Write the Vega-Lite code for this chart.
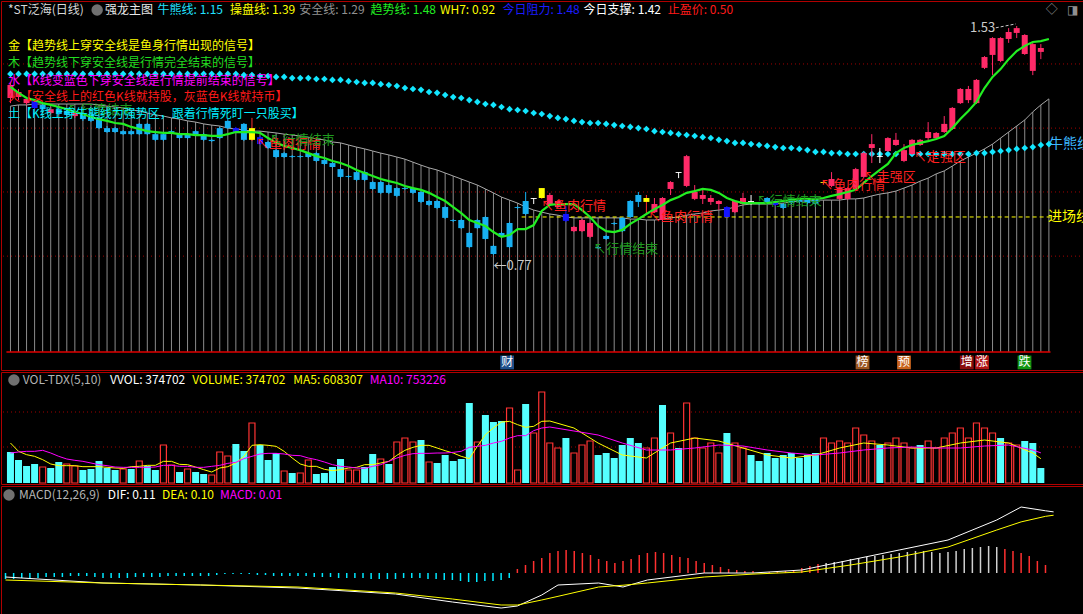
{
"$schema":"https://vega.github.io/schema/vega-lite/v6.json",
"background":"#000000",
"padding":0,
"spacing":0,
"config":{"font":"Noto Sans CJK SC","view":{"stroke":"#b00000","strokeWidth":1}},
"datasets":{
"cd":[
{"k":0,"t":1.334,"b":1.291,"h":1.341,"l":1.274,"c":"red"},
{"k":1,"t":1.311,"b":1.294,"h":1.321,"l":1.284,"c":"red"},
{"k":2,"t":1.288,"b":1.274,"h":1.294,"l":1.268,"c":"red"},
{"k":3,"t":1.281,"b":1.258,"h":1.284,"l":1.254,"c":"blue"},
{"k":4,"t":1.268,"b":1.254,"h":1.274,"l":1.248,"c":"cyan"},
{"k":5,"t":1.254,"b":1.241,"h":1.261,"l":1.238,"c":"red"},
{"k":6,"t":1.254,"b":1.238,"h":1.258,"l":1.235,"c":"cyan"},
{"k":7,"t":1.248,"b":1.235,"h":1.254,"l":1.231,"c":"cyan"},
{"k":8,"t":1.245,"b":1.231,"h":1.248,"l":1.225,"c":"red"},
{"k":9,"t":1.241,"b":1.221,"h":1.245,"l":1.215,"c":"cyan"},
{"k":10,"t":1.238,"b":1.215,"h":1.241,"l":1.211,"c":"cyan"},
{"k":11,"t":1.225,"b":1.191,"h":1.231,"l":1.188,"c":"cyan"},
{"k":12,"t":1.191,"b":1.178,"h":1.198,"l":1.175,"c":"cyan"},
{"k":13,"t":1.191,"b":1.178,"h":1.195,"l":1.175,"c":"cyan"},
{"k":14,"t":1.181,"b":1.171,"h":1.185,"l":1.168,"c":"cyan"},
{"k":15,"t":1.181,"b":1.171,"h":1.185,"l":1.168,"c":"cyan"},
{"k":16,"t":1.205,"b":1.171,"h":1.208,"l":1.168,"c":"cyan"},
{"k":17,"t":1.205,"b":1.171,"h":1.208,"l":1.168,"c":"cyan"},
{"k":18,"t":1.171,"b":1.152,"h":1.175,"l":1.148,"c":"cyan"},
{"k":19,"t":1.171,"b":1.152,"h":1.175,"l":1.148,"c":"cyan"},
{"k":20,"t":1.181,"b":1.178,"h":1.185,"l":1.171,"c":"cyan"},
{"k":21,"t":1.171,"b":1.158,"h":1.175,"l":1.155,"c":"cyan"},
{"k":22,"t":1.171,"b":1.158,"h":1.175,"l":1.155,"c":"cyan"},
{"k":23,"t":1.181,"b":1.168,"h":1.185,"l":1.165,"c":"cyan"},
{"k":24,"t":1.171,"b":1.152,"h":1.175,"l":1.148,"c":"cyan"},
{"k":25,"t":1.152,"b":1.148,"h":1.155,"l":1.145,"c":"cyan"},
{"k":26,"t":1.191,"b":1.158,"h":1.195,"l":1.155,"c":"cyan"},
{"k":27,"t":1.215,"b":1.191,"h":1.221,"l":1.188,"c":"cyan"},
{"k":28,"t":1.191,"b":1.178,"h":1.195,"l":1.175,"c":"blue"},
{"k":29,"t":1.205,"b":1.152,"h":1.208,"l":1.148,"c":"cyan"},
{"k":30,"t":1.191,"b":1.152,"h":1.225,"l":1.148,"c":"yellow"},
{"k":31,"t":1.161,"b":1.138,"h":1.165,"l":1.135,"c":"blue"},
{"k":32,"t":1.145,"b":1.125,"h":1.148,"l":1.122,"c":"cyan"},
{"k":33,"t":1.118,"b":1.095,"h":1.122,"l":1.092,"c":"cyan"},
{"k":34,"t":1.108,"b":1.095,"h":1.112,"l":1.092,"c":"cyan"},
{"k":35,"t":1.098,"b":1.095,"h":1.102,"l":1.092,"c":"cyan"},
{"k":36,"t":1.098,"b":1.095,"h":1.102,"l":1.092,"c":"cyan"},
{"k":37,"t":1.108,"b":1.095,"h":1.112,"l":1.092,"c":"cyan"},
{"k":38,"t":1.108,"b":1.082,"h":1.112,"l":1.078,"c":"cyan"},
{"k":39,"t":1.085,"b":1.072,"h":1.088,"l":1.068,"c":"cyan"},
{"k":40,"t":1.075,"b":1.062,"h":1.078,"l":1.059,"c":"cyan"},
{"k":41,"t":1.055,"b":1.029,"h":1.059,"l":1.025,"c":"cyan"},
{"k":42,"t":1.032,"b":1.029,"h":1.035,"l":1.025,"c":"cyan"},
{"k":43,"t":1.045,"b":1.019,"h":1.049,"l":1.015,"c":"cyan"},
{"k":44,"t":1.045,"b":1.019,"h":1.049,"l":1.015,"c":"cyan"},
{"k":45,"t":1.012,"b":0.989,"h":1.015,"l":0.986,"c":"cyan"},
{"k":46,"t":1.012,"b":0.976,"h":1.015,"l":0.972,"c":"cyan"},
{"k":47,"t":1.002,"b":0.976,"h":1.005,"l":0.972,"c":"cyan"},
{"k":48,"t":0.992,"b":0.966,"h":0.995,"l":0.962,"c":"cyan"},
{"k":49,"t":0.992,"b":0.989,"h":0.995,"l":0.986,"c":"cyan"},
{"k":50,"t":0.992,"b":0.976,"h":0.995,"l":0.972,"c":"cyan"},
{"k":51,"t":0.979,"b":0.946,"h":0.982,"l":0.942,"c":"cyan"},
{"k":52,"t":0.949,"b":0.936,"h":0.952,"l":0.932,"c":"cyan"},
{"k":53,"t":0.949,"b":0.926,"h":0.952,"l":0.922,"c":"cyan"},
{"k":54,"t":0.929,"b":0.893,"h":0.932,"l":0.889,"c":"cyan"},
{"k":55,"t":0.886,"b":0.883,"h":0.889,"l":0.879,"c":"cyan"},
{"k":56,"t":0.886,"b":0.859,"h":0.889,"l":0.856,"c":"cyan"},
{"k":57,"t":0.843,"b":0.796,"h":0.846,"l":0.793,"c":"cyan"},
{"k":58,"t":0.886,"b":0.859,"h":0.889,"l":0.856,"c":"cyan"},
{"k":59,"t":0.896,"b":0.823,"h":0.899,"l":0.820,"c":"cyan"},
{"k":60,"t":0.800,"b":0.773,"h":0.803,"l":0.770,"c":"cyan"},
{"k":61,"t":0.843,"b":0.830,"h":0.846,"l":0.826,"c":"cyan"},
{"k":62,"t":0.876,"b":0.796,"h":0.879,"l":0.793,"c":"cyan"},
{"k":63,"t":0.929,"b":0.926,"h":0.932,"l":0.922,"c":"cyan"},
{"k":64,"t":0.949,"b":0.906,"h":0.979,"l":0.902,"c":"cyan"},
{"k":65,"t":0.959,"b":0.956,"h":0.959,"l":0.939,"c":"white"},
{"k":66,"t":0.992,"b":0.959,"h":0.992,"l":0.956,"c":"yellow"},
{"k":67,"t":0.969,"b":0.936,"h":0.976,"l":0.932,"c":"red"},
{"k":68,"t":0.949,"b":0.929,"h":0.952,"l":0.926,"c":"red"},
{"k":69,"t":0.906,"b":0.883,"h":0.932,"l":0.879,"c":"blue"},
{"k":70,"t":0.863,"b":0.849,"h":0.866,"l":0.846,"c":"red"},
{"k":71,"t":0.886,"b":0.849,"h":0.889,"l":0.846,"c":"red"},
{"k":72,"t":0.876,"b":0.830,"h":0.879,"l":0.826,"c":"red"},
{"k":73,"t":0.796,"b":0.793,"h":0.800,"l":0.790,"c":"cyan"},
{"k":74,"t":0.833,"b":0.823,"h":0.836,"l":0.820,"c":"cyan"},
{"k":75,"t":0.876,"b":0.873,"h":0.879,"l":0.869,"c":"cyan"},
{"k":76,"t":0.893,"b":0.849,"h":0.896,"l":0.846,"c":"cyan"},
{"k":77,"t":0.949,"b":0.896,"h":0.952,"l":0.893,"c":"cyan"},
{"k":78,"t":0.969,"b":0.946,"h":0.979,"l":0.929,"c":"cyan"},
{"k":79,"t":0.959,"b":0.946,"h":0.969,"l":0.909,"c":"yellow"},
{"k":80,"t":0.939,"b":0.912,"h":0.959,"l":0.909,"c":"red"},
{"k":81,"t":0.959,"b":0.886,"h":0.962,"l":0.883,"c":"red"},
{"k":82,"t":1.012,"b":0.989,"h":1.015,"l":0.969,"c":"red"},
{"k":83,"t":1.045,"b":1.042,"h":1.045,"l":1.025,"c":"white"},
{"k":84,"t":1.098,"b":0.999,"h":1.102,"l":0.995,"c":"red"},
{"k":85,"t":0.979,"b":0.956,"h":1.002,"l":0.952,"c":"red"},
{"k":86,"t":0.969,"b":0.956,"h":0.986,"l":0.939,"c":"red"},
{"k":87,"t":0.959,"b":0.946,"h":0.969,"l":0.936,"c":"red"},
{"k":88,"t":0.949,"b":0.939,"h":0.952,"l":0.919,"c":"red"},
{"k":89,"t":0.929,"b":0.896,"h":0.932,"l":0.893,"c":"blue"},
{"k":90,"t":0.949,"b":0.912,"h":0.952,"l":0.909,"c":"red"},
{"k":91,"t":0.959,"b":0.939,"h":0.976,"l":0.936,"c":"red"},
{"k":92,"t":0.949,"b":0.946,"h":0.969,"l":0.936,"c":"white"},
{"k":93,"t":0.942,"b":0.939,"h":0.946,"l":0.936,"c":"cyan"},
{"k":94,"t":0.959,"b":0.942,"h":0.962,"l":0.939,"c":"cyan"},
{"k":95,"t":0.949,"b":0.936,"h":0.952,"l":0.932,"c":"blue"},
{"k":96,"t":0.939,"b":0.926,"h":0.942,"l":0.922,"c":"cyan"},
{"k":97,"t":0.956,"b":0.942,"h":0.959,"l":0.939,"c":"cyan"},
{"k":98,"t":0.956,"b":0.946,"h":0.959,"l":0.942,"c":"cyan"},
{"k":99,"t":0.956,"b":0.942,"h":0.959,"l":0.939,"c":"cyan"},
{"k":100,"t":0.959,"b":0.939,"h":0.962,"l":0.936,"c":"cyan"},
{"k":101,"t":1.012,"b":1.009,"h":1.015,"l":1.005,"c":"yellow"},
{"k":102,"t":1.022,"b":0.999,"h":1.045,"l":0.995,"c":"red"},
{"k":103,"t":0.992,"b":0.956,"h":0.995,"l":0.952,"c":"red"},
{"k":104,"t":0.992,"b":0.956,"h":0.995,"l":0.952,"c":"red"},
{"k":105,"t":1.055,"b":0.989,"h":1.059,"l":0.986,"c":"red"},
{"k":106,"t":1.108,"b":1.029,"h":1.112,"l":1.025,"c":"red"},
{"k":107,"t":1.138,"b":1.125,"h":1.171,"l":1.075,"c":"red"},
{"k":108,"t":1.098,"b":1.095,"h":1.125,"l":1.075,"c":"white"},
{"k":109,"t":1.158,"b":1.115,"h":1.161,"l":1.112,"c":"red"},
{"k":110,"t":1.152,"b":1.135,"h":1.175,"l":1.132,"c":"red"},
{"k":111,"t":1.118,"b":1.082,"h":1.138,"l":1.078,"c":"red"},
{"k":112,"t":1.152,"b":1.105,"h":1.155,"l":1.102,"c":"red"},
{"k":113,"t":1.152,"b":1.135,"h":1.155,"l":1.132,"c":"red"},
{"k":114,"t":1.178,"b":1.158,"h":1.211,"l":1.148,"c":"red"},
{"k":115,"t":1.175,"b":1.158,"h":1.178,"l":1.155,"c":"red"},
{"k":116,"t":1.205,"b":1.178,"h":1.231,"l":1.175,"c":"red"},
{"k":117,"t":1.258,"b":1.188,"h":1.261,"l":1.185,"c":"red"},
{"k":118,"t":1.321,"b":1.274,"h":1.324,"l":1.271,"c":"red"},
{"k":119,"t":1.321,"b":1.284,"h":1.331,"l":1.274,"c":"red"},
{"k":120,"t":1.351,"b":1.274,"h":1.354,"l":1.271,"c":"red"},
{"k":121,"t":1.427,"b":1.391,"h":1.430,"l":1.387,"c":"red"},
{"k":122,"t":1.490,"b":1.434,"h":1.493,"l":1.367,"c":"red"},
{"k":123,"t":1.490,"b":1.414,"h":1.493,"l":1.410,"c":"red"},
{"k":124,"t":1.510,"b":1.487,"h":1.523,"l":1.474,"c":"red"},
{"k":125,"t":1.523,"b":1.507,"h":1.530,"l":1.490,"c":"red"},
{"k":126,"t":1.500,"b":1.437,"h":1.503,"l":1.434,"c":"red"},
{"k":127,"t":1.470,"b":1.381,"h":1.474,"l":1.367,"c":"red"},
{"k":128,"t":1.457,"b":1.444,"h":1.470,"l":1.420,"c":"red"}
],
"ln":[
{"k":0,"g":1.264,"tr":1.328,"bx":1.371},{"k":1,"g":1.268,"tr":1.308,"bx":1.371},{"k":2,"g":1.268,"tr":1.291,"bx":1.371},{"k":3,"g":1.271,"tr":1.284,"bx":1.371},{"k":4,"g":1.271,"tr":1.274,"bx":1.371},{"k":5,"g":1.271,"tr":1.268,"bx":1.371},{"k":6,"g":1.271,"tr":1.261,"bx":1.371},{"k":7,"g":1.271,"tr":1.254,"bx":1.371},{"k":8,"g":1.271,"tr":1.245,"bx":1.371},{"k":9,"g":1.271,"tr":1.238,"bx":1.371},
{"k":10,"g":1.271,"tr":1.228,"bx":1.371},{"k":11,"g":1.268,"tr":1.221,"bx":1.371},{"k":12,"g":1.264,"tr":1.215,"bx":1.371},{"k":13,"g":1.261,"tr":1.208,"bx":1.371},{"k":14,"g":1.258,"tr":1.205,"bx":1.371},{"k":15,"g":1.251,"tr":1.195,"bx":1.371},{"k":16,"g":1.248,"tr":1.188,"bx":1.371},{"k":17,"g":1.241,"tr":1.181,"bx":1.371},{"k":18,"g":1.235,"tr":1.178,"bx":1.371},{"k":19,"g":1.231,"tr":1.175,"bx":1.371},
{"k":20,"g":1.225,"tr":1.175,"bx":1.371},{"k":21,"g":1.221,"tr":1.171,"bx":1.371},{"k":22,"g":1.215,"tr":1.171,"bx":1.371},{"k":23,"g":1.211,"tr":1.168,"bx":1.371},{"k":24,"g":1.205,"tr":1.168,"bx":1.371},{"k":25,"g":1.201,"tr":1.165,"bx":1.371},{"k":26,"g":1.198,"tr":1.165,"bx":1.371},{"k":27,"g":1.191,"tr":1.171,"bx":1.371},{"k":28,"g":1.188,"tr":1.178,"bx":1.371},{"k":29,"g":1.185,"tr":1.178,"bx":1.367},
{"k":30,"g":1.181,"tr":1.178,"bx":1.367},{"k":31,"g":1.181,"tr":1.175,"bx":1.364},{"k":32,"g":1.178,"tr":1.158,"bx":1.364},{"k":33,"g":1.175,"tr":1.142,"bx":1.361},{"k":34,"g":1.171,"tr":1.132,"bx":1.361},{"k":35,"g":1.168,"tr":1.125,"bx":1.357},{"k":36,"g":1.165,"tr":1.118,"bx":1.357},{"k":37,"g":1.161,"tr":1.108,"bx":1.357},{"k":38,"g":1.155,"tr":1.098,"bx":1.354},{"k":39,"g":1.152,"tr":1.092,"bx":1.354},
{"k":40,"g":1.145,"tr":1.082,"bx":1.351},{"k":41,"g":1.142,"tr":1.075,"bx":1.351},{"k":42,"g":1.135,"tr":1.065,"bx":1.347},{"k":43,"g":1.128,"tr":1.052,"bx":1.344},{"k":44,"g":1.122,"tr":1.042,"bx":1.341},{"k":45,"g":1.115,"tr":1.032,"bx":1.341},{"k":46,"g":1.108,"tr":1.022,"bx":1.337},{"k":47,"g":1.102,"tr":1.015,"bx":1.334},{"k":48,"g":1.095,"tr":1.009,"bx":1.331},{"k":49,"g":1.088,"tr":0.999,"bx":1.324},
{"k":50,"g":1.078,"tr":0.992,"bx":1.321},{"k":51,"g":1.068,"tr":0.986,"bx":1.318},{"k":52,"g":1.059,"tr":0.976,"bx":1.311},{"k":53,"g":1.052,"tr":0.962,"bx":1.308},{"k":54,"g":1.042,"tr":0.949,"bx":1.301},{"k":55,"g":1.032,"tr":0.929,"bx":1.294},{"k":56,"g":1.022,"tr":0.909,"bx":1.291},{"k":57,"g":1.012,"tr":0.886,"bx":1.284},{"k":58,"g":1.002,"tr":0.876,"bx":1.278},{"k":59,"g":0.989,"tr":0.866,"bx":1.271},
{"k":60,"g":0.976,"tr":0.846,"bx":1.268},{"k":61,"g":0.962,"tr":0.830,"bx":1.261},{"k":62,"g":0.952,"tr":0.836,"bx":1.254},{"k":63,"g":0.942,"tr":0.856,"bx":1.251},{"k":64,"g":0.929,"tr":0.856,"bx":1.248},{"k":65,"g":0.919,"tr":0.869,"bx":1.241},{"k":66,"g":0.912,"tr":0.916,"bx":1.238},{"k":67,"g":0.906,"tr":0.936,"bx":1.231},{"k":68,"g":0.902,"tr":0.939,"bx":1.225},{"k":69,"g":0.896,"tr":0.939,"bx":1.221},
{"k":70,"g":0.893,"tr":0.939,"bx":1.215},{"k":71,"g":0.893,"tr":0.919,"bx":1.211},{"k":72,"g":0.893,"tr":0.896,"bx":1.208},{"k":73,"g":0.893,"tr":0.866,"bx":1.208},{"k":74,"g":0.893,"tr":0.849,"bx":1.205},{"k":75,"g":0.893,"tr":0.846,"bx":1.201},{"k":76,"g":0.893,"tr":0.853,"bx":1.198},{"k":77,"g":0.889,"tr":0.873,"bx":1.195},{"k":78,"g":0.889,"tr":0.889,"bx":1.191},{"k":79,"g":0.886,"tr":0.906,"bx":1.188},
{"k":80,"g":0.886,"tr":0.922,"bx":1.181},{"k":81,"g":0.889,"tr":0.936,"bx":1.178},{"k":82,"g":0.893,"tr":0.952,"bx":1.175},{"k":83,"g":0.896,"tr":0.962,"bx":1.171},{"k":84,"g":0.902,"tr":0.976,"bx":1.168},{"k":85,"g":0.906,"tr":0.982,"bx":1.165},{"k":86,"g":0.909,"tr":0.989,"bx":1.161},{"k":87,"g":0.916,"tr":0.986,"bx":1.158},{"k":88,"g":0.919,"tr":0.976,"bx":1.152},{"k":89,"g":0.922,"tr":0.959,"bx":1.148},
{"k":90,"g":0.929,"tr":0.949,"bx":1.142},{"k":91,"g":0.936,"tr":0.942,"bx":1.142},{"k":92,"g":0.939,"tr":0.942,"bx":1.138},{"k":93,"g":0.939,"tr":0.942,"bx":1.135},{"k":94,"g":0.939,"tr":0.942,"bx":1.132},{"k":95,"g":0.939,"tr":0.946,"bx":1.128},{"k":96,"g":0.942,"tr":0.949,"bx":1.125},{"k":97,"g":0.946,"tr":0.952,"bx":1.125},{"k":98,"g":0.949,"tr":0.956,"bx":1.122},{"k":99,"g":0.949,"tr":0.956,"bx":1.118},
{"k":100,"g":0.952,"tr":0.956,"bx":1.112},{"k":101,"g":0.952,"tr":0.959,"bx":1.112},{"k":102,"g":0.952,"tr":0.966,"bx":1.108},{"k":103,"g":0.952,"tr":0.972,"bx":1.108},{"k":104,"g":0.956,"tr":0.979,"bx":1.105},{"k":105,"g":0.956,"tr":0.986,"bx":1.105},{"k":106,"g":0.959,"tr":1.009,"bx":1.105},{"k":107,"g":0.966,"tr":1.032,"bx":1.105},{"k":108,"g":0.972,"tr":1.052,"bx":1.105},{"k":109,"g":0.976,"tr":1.072,"bx":1.105},
{"k":110,"g":0.982,"tr":1.108,"bx":1.105},{"k":111,"g":0.992,"tr":1.125,"bx":1.105},{"k":112,"g":1.002,"tr":1.135,"bx":1.105},{"k":113,"g":1.015,"tr":1.142,"bx":1.105},{"k":114,"g":1.025,"tr":1.148,"bx":1.105},{"k":115,"g":1.039,"tr":1.155,"bx":1.105},{"k":116,"g":1.049,"tr":1.165,"bx":1.105},{"k":117,"g":1.065,"tr":1.191,"bx":1.105},{"k":118,"g":1.082,"tr":1.221,"bx":1.105},{"k":119,"g":1.095,"tr":1.248,"bx":1.105},
{"k":120,"g":1.108,"tr":1.278,"bx":1.108},{"k":121,"g":1.122,"tr":1.324,"bx":1.108},{"k":122,"g":1.138,"tr":1.361,"bx":1.112},{"k":123,"g":1.158,"tr":1.387,"bx":1.115},{"k":124,"g":1.178,"tr":1.420,"bx":1.118},{"k":125,"g":1.198,"tr":1.447,"bx":1.122},{"k":126,"g":1.218,"tr":1.464,"bx":1.125},{"k":127,"g":1.245,"tr":1.477,"bx":1.128},{"k":128,"g":1.268,"tr":1.480,"bx":1.135},{"k":129,"g":1.288,"tr":1.487,"bx":1.138}
],
"vol":[
{"k":0,"v":775000,"t":"c"},{"k":1,"v":575000,"t":"c"},{"k":2,"v":425000,"t":"c"},{"k":3,"v":475000,"t":"c"},{"k":4,"v":400000,"t":"r"},{"k":5,"v":375000,"t":"c"},{"k":6,"v":525000,"t":"c"},{"k":7,"v":475000,"t":"r"},{"k":8,"v":425000,"t":"r"},{"k":9,"v":325000,"t":"c"},
{"k":10,"v":350000,"t":"c"},{"k":11,"v":550000,"t":"c"},{"k":12,"v":375000,"t":"c"},{"k":13,"v":325000,"t":"c"},{"k":14,"v":350000,"t":"r"},{"k":15,"v":350000,"t":"c"},{"k":16,"v":550000,"t":"r"},{"k":17,"v":425000,"t":"c"},{"k":18,"v":325000,"t":"c"},{"k":19,"v":950000,"t":"r"},
{"k":20,"v":450000,"t":"r"},{"k":21,"v":275000,"t":"c"},{"k":22,"v":350000,"t":"r"},{"k":23,"v":275000,"t":"c"},{"k":24,"v":225000,"t":"c"},{"k":25,"v":200000,"t":"r"},{"k":26,"v":775000,"t":"r"},{"k":27,"v":675000,"t":"r"},{"k":28,"v":975000,"t":"c"},{"k":29,"v":800000,"t":"c"},
{"k":30,"v":1500000,"t":"r"},{"k":31,"v":950000,"t":"c"},{"k":32,"v":575000,"t":"c"},{"k":33,"v":750000,"t":"c"},{"k":34,"v":300000,"t":"r"},{"k":35,"v":250000,"t":"c"},{"k":36,"v":250000,"t":"r"},{"k":37,"v":575000,"t":"r"},{"k":38,"v":225000,"t":"c"},{"k":39,"v":250000,"t":"c"},
{"k":40,"v":400000,"t":"c"},{"k":41,"v":600000,"t":"c"},{"k":42,"v":325000,"t":"r"},{"k":43,"v":325000,"t":"r"},{"k":44,"v":400000,"t":"c"},{"k":45,"v":725000,"t":"c"},{"k":46,"v":600000,"t":"r"},{"k":47,"v":475000,"t":"c"},{"k":48,"v":1025000,"t":"r"},{"k":49,"v":1125000,"t":"r"},
{"k":50,"v":1025000,"t":"r"},{"k":51,"v":1075000,"t":"c"},{"k":52,"v":525000,"t":"r"},{"k":53,"v":500000,"t":"c"},{"k":54,"v":700000,"t":"c"},{"k":55,"v":550000,"t":"c"},{"k":56,"v":600000,"t":"c"},{"k":57,"v":2000000,"t":"c"},{"k":58,"v":1025000,"t":"r"},{"k":59,"v":1700000,"t":"c"},
{"k":60,"v":1525000,"t":"c"},{"k":61,"v":1550000,"t":"c"},{"k":62,"v":1875000,"t":"r"},{"k":63,"v":325000,"t":"r"},{"k":64,"v":1975000,"t":"c"},{"k":65,"v":1250000,"t":"r"},{"k":66,"v":2275000,"t":"r"},{"k":67,"v":1000000,"t":"r"},{"k":68,"v":875000,"t":"r"},{"k":69,"v":1125000,"t":"c"},
{"k":70,"v":750000,"t":"r"},{"k":71,"v":950000,"t":"r"},{"k":72,"v":1050000,"t":"r"},{"k":73,"v":700000,"t":"c"},{"k":74,"v":750000,"t":"c"},{"k":75,"v":625000,"t":"c"},{"k":76,"v":950000,"t":"c"},{"k":77,"v":1125000,"t":"c"},{"k":78,"v":1000000,"t":"c"},{"k":79,"v":875000,"t":"r"},
{"k":80,"v":1125000,"t":"r"},{"k":81,"v":1950000,"t":"c"},{"k":82,"v":1250000,"t":"r"},{"k":83,"v":875000,"t":"c"},{"k":84,"v":2000000,"t":"r"},{"k":85,"v":1125000,"t":"r"},{"k":86,"v":875000,"t":"r"},{"k":87,"v":1000000,"t":"r"},{"k":88,"v":750000,"t":"r"},{"k":89,"v":1250000,"t":"c"},
{"k":90,"v":1000000,"t":"r"},{"k":91,"v":875000,"t":"r"},{"k":92,"v":700000,"t":"c"},{"k":93,"v":550000,"t":"c"},{"k":94,"v":750000,"t":"c"},{"k":95,"v":625000,"t":"c"},{"k":96,"v":700000,"t":"c"},{"k":97,"v":750000,"t":"c"},{"k":98,"v":625000,"t":"c"},{"k":99,"v":700000,"t":"c"},
{"k":100,"v":750000,"t":"c"},{"k":101,"v":1125000,"t":"r"},{"k":102,"v":1000000,"t":"r"},{"k":103,"v":1050000,"t":"r"},{"k":104,"v":1000000,"t":"r"},{"k":105,"v":1375000,"t":"r"},{"k":106,"v":1200000,"t":"r"},{"k":107,"v":1050000,"t":"r"},{"k":108,"v":950000,"t":"c"},{"k":109,"v":1000000,"t":"r"},
{"k":110,"v":1125000,"t":"r"},{"k":111,"v":1000000,"t":"r"},{"k":112,"v":875000,"t":"r"},{"k":113,"v":950000,"t":"c"},{"k":114,"v":1050000,"t":"r"},{"k":115,"v":875000,"t":"r"},{"k":116,"v":1125000,"t":"r"},{"k":117,"v":1250000,"t":"r"},{"k":118,"v":1375000,"t":"r"},{"k":119,"v":1125000,"t":"r"},
{"k":120,"v":1500000,"t":"r"},{"k":121,"v":1375000,"t":"r"},{"k":122,"v":1250000,"t":"r"},{"k":123,"v":1125000,"t":"c"},{"k":124,"v":1000000,"t":"r"},{"k":125,"v":950000,"t":"r"},{"k":126,"v":1050000,"t":"c"},{"k":127,"v":1000000,"t":"c"},{"k":128,"v":374702,"t":"c"}
],
"ma":[
{"k":0,"a":1000000,"b":750000},{"k":1,"a":791700,"b":775000},{"k":2,"a":708300,"b":791700},{"k":3,"a":666700,"b":791700},{"k":4,"a":583300,"b":816700},{"k":5,"a":475000,"b":750000},{"k":6,"a":433300,"b":666700},{"k":7,"a":433300,"b":600000},{"k":8,"a":433300,"b":566700},{"k":9,"a":408300,"b":541700},
{"k":10,"a":408300,"b":500000},{"k":11,"a":408300,"b":458300},{"k":12,"a":391700,"b":433300},{"k":13,"a":375000,"b":400000},{"k":14,"a":366700,"b":391700},{"k":15,"a":408300,"b":391700},{"k":16,"a":416700,"b":391700},{"k":17,"a":441700,"b":391700},{"k":18,"a":441700,"b":400000},{"k":19,"a":541700,"b":441700},
{"k":20,"a":541700,"b":441700},{"k":21,"a":466700,"b":416700},{"k":22,"a":458300,"b":416700},{"k":23,"a":400000,"b":391700},{"k":24,"a":333300,"b":391700},{"k":25,"a":275000,"b":416700},{"k":26,"a":375000,"b":441700},{"k":27,"a":408300,"b":491700},{"k":28,"a":500000,"b":516700},{"k":29,"a":666700,"b":608300},
{"k":30,"a":941700,"b":666700},{"k":31,"a":958300,"b":725000},{"k":32,"a":941700,"b":741700},{"k":33,"a":916700,"b":741700},{"k":34,"a":791700,"b":725000},{"k":35,"a":625000,"b":691700},{"k":36,"a":475000,"b":683300},{"k":37,"a":416700,"b":625000},{"k":38,"a":416700,"b":583300},{"k":39,"a":341700,"b":525000},
{"k":40,"a":308300,"b":458300},{"k":41,"a":333300,"b":416700},{"k":42,"a":375000,"b":400000},{"k":43,"a":391700,"b":375000},{"k":44,"a":458300,"b":366700},{"k":45,"a":458300,"b":416700},{"k":46,"a":500000,"b":458300},{"k":47,"a":541700,"b":541700},{"k":48,"a":691700,"b":625000},{"k":49,"a":816700,"b":691700},
{"k":50,"a":891700,"b":733300},{"k":51,"a":941700,"b":741700},{"k":52,"a":941700,"b":741700},{"k":53,"a":875000,"b":750000},{"k":54,"a":808300,"b":750000},{"k":55,"a":750000,"b":766700},{"k":56,"a":666700,"b":791700},{"k":57,"a":608300,"b":891700},{"k":58,"a":916700,"b":916700},{"k":59,"a":1208300,"b":941700},
{"k":60,"a":1375000,"b":1000000},{"k":61,"a":1525000,"b":1041700},{"k":62,"a":1541700,"b":1125000},{"k":63,"a":1458300,"b":1183300},{"k":64,"a":1391700,"b":1183300},{"k":65,"a":1416700,"b":1308300},{"k":66,"a":1541700,"b":1375000},{"k":67,"a":1550000,"b":1400000},{"k":70,"a":1375000,"b":1300000},{"k":73,"a":1000000,"b":1200000},
{"k":76,"a":700000,"b":1000000},{"k":79,"a":625000,"b":825000},{"k":82,"a":1000000,"b":825000},{"k":85,"a":1125000,"b":875000},{"k":88,"a":1050000,"b":950000},{"k":91,"a":875000,"b":925000},{"k":94,"a":700000,"b":825000},{"k":97,"a":625000,"b":750000},{"k":100,"a":700000,"b":700000},{"k":103,"a":875000,"b":750000},
{"k":106,"a":1000000,"b":825000},{"k":109,"a":950000,"b":875000},{"k":112,"a":875000,"b":900000},{"k":115,"a":875000,"b":875000},{"k":118,"a":1000000,"b":875000},{"k":121,"a":1075000,"b":925000},{"k":124,"a":1000000,"b":950000},{"k":127,"a":750000,"b":825000},{"k":128,"a":608307,"b":753226}
],
"hs":[
{"k":0,"m":-0.0108,"t":"n"},{"k":1,"m":-0.0108,"t":"n"},{"k":2,"m":-0.009,"t":"n"},{"k":3,"m":-0.009,"t":"n"},{"k":4,"m":-0.009,"t":"n"},{"k":5,"m":-0.0072,"t":"n"},{"k":6,"m":-0.0072,"t":"n"},{"k":7,"m":-0.0072,"t":"n"},{"k":8,"m":-0.0054,"t":"n"},{"k":9,"m":-0.0054,"t":"n"},
{"k":10,"m":-0.0054,"t":"n"},{"k":11,"m":-0.0072,"t":"n"},{"k":12,"m":-0.009,"t":"n"},{"k":13,"m":-0.009,"t":"n"},{"k":14,"m":-0.009,"t":"n"},{"k":15,"m":-0.009,"t":"n"},{"k":16,"m":-0.0072,"t":"n"},{"k":17,"m":-0.0072,"t":"n"},{"k":18,"m":-0.0072,"t":"n"},{"k":19,"m":-0.0072,"t":"n"},
{"k":20,"m":-0.0054,"t":"n"},{"k":21,"m":-0.0054,"t":"n"},{"k":22,"m":-0.0054,"t":"n"},{"k":23,"m":-0.0054,"t":"n"},{"k":24,"m":-0.0054,"t":"n"},{"k":25,"m":-0.0054,"t":"n"},{"k":26,"m":-0.0036,"t":"n"},{"k":27,"m":-0.0018,"t":"n"},{"k":28,"m":-0.0018,"t":"n"},{"k":29,"m":-0.0018,"t":"n"},
{"k":30,"m":-0.0018,"t":"n"},{"k":31,"m":-0.0036,"t":"n"},{"k":32,"m":-0.0036,"t":"n"},{"k":33,"m":-0.0054,"t":"n"},{"k":34,"m":-0.0054,"t":"n"},{"k":35,"m":-0.0054,"t":"n"},{"k":36,"m":-0.0054,"t":"n"},{"k":37,"m":-0.0054,"t":"n"},{"k":38,"m":-0.0072,"t":"n"},{"k":39,"m":-0.0072,"t":"n"},
{"k":40,"m":-0.0072,"t":"n"},{"k":41,"m":-0.009,"t":"n"},{"k":42,"m":-0.009,"t":"n"},{"k":43,"m":-0.009,"t":"n"},{"k":44,"m":-0.009,"t":"n"},{"k":45,"m":-0.0108,"t":"n"},{"k":46,"m":-0.0108,"t":"n"},{"k":47,"m":-0.0108,"t":"n"},{"k":48,"m":-0.0108,"t":"n"},{"k":49,"m":-0.009,"t":"n"},
{"k":50,"m":-0.009,"t":"n"},{"k":51,"m":-0.009,"t":"n"},{"k":52,"m":-0.0108,"t":"n"},{"k":53,"m":-0.0108,"t":"n"},{"k":54,"m":-0.0126,"t":"n"},{"k":55,"m":-0.0126,"t":"n"},{"k":56,"m":-0.0144,"t":"n"},{"k":57,"m":-0.0162,"t":"n"},{"k":58,"m":-0.0162,"t":"n"},{"k":59,"m":-0.0144,"t":"n"},
{"k":60,"m":-0.0144,"t":"n"},{"k":61,"m":-0.0126,"t":"n"},{"k":62,"m":-0.009,"t":"n"},{"k":63,"m":0.0072,"t":"p"},{"k":64,"m":0.0144,"t":"p"},{"k":65,"m":0.0216,"t":"p"},{"k":66,"m":0.027,"t":"p"},{"k":67,"m":0.036,"t":"p"},{"k":68,"m":0.0396,"t":"p"},{"k":69,"m":0.0414,"t":"p"},
{"k":70,"m":0.0396,"t":"p"},{"k":71,"m":0.036,"t":"p"},{"k":72,"m":0.0324,"t":"p"},{"k":73,"m":0.0252,"t":"p"},{"k":74,"m":0.0216,"t":"p"},{"k":75,"m":0.018,"t":"p"},{"k":76,"m":0.0216,"t":"p"},{"k":77,"m":0.0252,"t":"p"},{"k":78,"m":0.0324,"t":"p"},{"k":79,"m":0.036,"t":"p"},
{"k":80,"m":0.0378,"t":"p"},{"k":81,"m":0.036,"t":"p"},{"k":82,"m":0.0324,"t":"p"},{"k":83,"m":0.0288,"t":"p"},{"k":84,"m":0.027,"t":"p"},{"k":85,"m":0.0216,"t":"p"},{"k":86,"m":0.018,"t":"p"},{"k":87,"m":0.0144,"t":"p"},{"k":88,"m":0.0108,"t":"p"},{"k":89,"m":0.0072,"t":"p"},
{"k":90,"m":0.0054,"t":"p"},{"k":91,"m":0.0036,"t":"p"},{"k":92,"m":0.0036,"t":"p"},{"k":93,"m":0.0018,"t":"p"},{"k":94,"m":0.0018,"t":"p"},{"k":95,"m":0.0018,"t":"p"},{"k":96,"m":0.0036,"t":"p"},{"k":97,"m":0.0054,"t":"p"},{"k":98,"m":0.009,"t":"p"},{"k":99,"m":0.0126,"t":"p"},
{"k":100,"m":0.0162,"t":"p"},{"k":101,"m":0.018,"t":"w"},{"k":102,"m":0.0198,"t":"w"},{"k":103,"m":0.0216,"t":"w"},{"k":104,"m":0.0252,"t":"w"},{"k":105,"m":0.027,"t":"w"},{"k":106,"m":0.0288,"t":"w"},{"k":107,"m":0.0306,"t":"w"},{"k":108,"m":0.0324,"t":"w"},{"k":109,"m":0.0342,"t":"w"},
{"k":110,"m":0.036,"t":"w"},{"k":111,"m":0.0378,"t":"w"},{"k":112,"m":0.0396,"t":"w"},{"k":113,"m":0.0396,"t":"w"},{"k":114,"m":0.0378,"t":"w"},{"k":115,"m":0.036,"t":"w"},{"k":116,"m":0.0378,"t":"w"},{"k":117,"m":0.0396,"t":"w"},{"k":118,"m":0.0432,"t":"w"},{"k":119,"m":0.045,"t":"w"},
{"k":120,"m":0.0468,"t":"w"},{"k":121,"m":0.0486,"t":"w"},{"k":122,"m":0.0468,"t":"w"},{"k":123,"m":0.0432,"t":"p"},{"k":124,"m":0.0396,"t":"p"},{"k":125,"m":0.036,"t":"p"},{"k":126,"m":0.0306,"t":"p"},{"k":127,"m":0.0216,"t":"p"},{"k":128,"m":0.0144,"t":"p"}
],
"dd":[
{"k":0,"dif":-0.0072,"dea":-0.0126},{"k":12,"dif":-0.018,"dea":-0.018},{"k":24,"dif":-0.0216,"dea":-0.0216},{"k":36,"dif":-0.027,"dea":-0.0252},{"k":48,"dif":-0.0378,"dea":-0.036},{"k":55,"dif":-0.0522,"dea":-0.0468},{"k":61,"dif":-0.063,"dea":-0.0576},{"k":63,"dif":-0.0594,"dea":-0.0576},{"k":66,"dif":-0.0396,"dea":-0.0486},{"k":68,"dif":-0.0216,"dea":-0.042},
{"k":73,"dif":-0.018,"dea":-0.0252},{"k":76,"dif":-0.0252,"dea":-0.022},{"k":79,"dif":-0.0126,"dea":-0.018},{"k":86,"dif":0,"dea":-0.0072},{"k":92,"dif":0,"dea":-0.002},{"k":98,"dif":0.0054,"dea":0.0018},{"k":104,"dif":0.0234,"dea":0.0144},{"k":110,"dif":0.0414,"dea":0.0288},{"k":116,"dif":0.0594,"dea":0.0468},{"k":122,"dif":0.0954,"dea":0.0774},
{"k":125,"dif":0.1188,"dea":0.092},{"k":128,"dif":0.112,"dea":0.102},{"k":129,"dif":0.11,"dea":0.104}
],
"hdr":[
{"k":-0.31,"p":1.583,"s":"*ST泛海(日线)","g":"title"},
{"k":11.75,"p":1.583,"s":"强龙主图","g":"name"},
{"k":18.28,"p":1.583,"s":"牛熊线: 1.15","g":"bull"},
{"k":27.26,"p":1.583,"s":"操盘线: 1.39","g":"op"},
{"k":35.88,"p":1.583,"s":"安全线: 1.29","g":"safe"},
{"k":44.74,"p":1.583,"s":"趋势线: 1.48","g":"trend"},
{"k":53.35,"p":1.583,"s":"WH7: 0.92","g":"wh"},
{"k":61.11,"p":1.583,"s":"今日阻力: 1.48","g":"res"},
{"k":71.2,"p":1.583,"s":"今日支撑: 1.42","g":"sup"},
{"k":81.66,"p":1.583,"s":"止盈价: 0.50","g":"stop"},
{"k":128.6,"p":1.583,"s":"◇","g":"icon"},
{"k":131.3,"p":1.583,"s":"◨","g":"icon"}
],
"leg":[
{"k":-0.31,"p":1.462,"s":"金【趋势线上穿安全线是鱼身行情出现的信号】","g":"gold"},
{"k":-0.31,"p":1.407,"s":"木【趋势线下穿安全线是行情完全结束的信号】","g":"wood"},
{"k":-0.31,"p":1.349,"s":"水【K线变蓝色下穿安全线是行情提前结束的信号】","g":"water"},
{"k":-0.31,"p":1.293,"s":"火【安全线上的红色K线就持股，灰蓝色K线就持币】","g":"fire"},
{"k":-0.31,"p":1.238,"s":"土【K线上穿牛熊线为强势区，跟着行情死盯一只股买】","g":"earth"}
],
"ann":[
{"k":7.1,"p":1.251,"s":"↖行情结束","g":"end"},
{"k":30.5,"p":1.138,"s":"↖鱼肉行情","g":"fish"},
{"k":32.2,"p":1.152,"s":"↖行情结束","g":"end"},
{"k":65.9,"p":0.932,"s":"↖鱼肉行情","g":"fish"},
{"k":72.4,"p":0.790,"s":"↖行情结束","g":"end"},
{"k":79.2,"p":0.896,"s":"↖鱼肉行情","g":"fish"},
{"k":92.7,"p":0.949,"s":"↖行情结束","g":"end"},
{"k":100.6,"p":1.002,"s":"↖鱼肉行情","g":"fish"},
{"k":106.0,"p":1.029,"s":"↖走强区","g":"fish"},
{"k":112.2,"p":1.095,"s":"↖走强区","g":"fish"}
],
"ext":[
{"k":119.2,"p":1.525,"s":"1.53"},
{"k":60.0,"p":0.733,"s":"←0.77"}
],
"arr":[{"k":122.4,"k2":124.9,"p":1.524,"p2":1.537}],
"rlab":[
{"k":129.0,"p":1.138,"s":"牛熊线","g":"bull"},
{"k":128.9,"p":0.896,"s":"进场线","g":"entry"}
],
"tags":[
{"k":61.7,"p":0.413,"s":"财","g":"cai"},
{"k":105.85,"p":0.413,"s":"榜","g":"bang"},
{"k":111.0,"p":0.413,"s":"预","g":"yu"},
{"k":118.8,"p":0.413,"s":"增","g":"zeng"},
{"k":120.7,"p":0.413,"s":"涨","g":"zhang"},
{"k":125.97,"p":0.413,"s":"跌","g":"die"}
],
"lv":[
{"k":63.5,"k2":129.2,"p":0.896,"g":"entry"},
{"k":-0.5,"k2":129.2,"p":0.448,"g":"base"}
],
"vhdr":[
{"k":1.54,"v":2575000,"s":"VOL-TDX(5,10)","g":"t"},
{"k":12.37,"v":2575000,"s":"VVOL: 374702","g":"w"},
{"k":22.58,"v":2575000,"s":"VOLUME: 374702","g":"y"},
{"k":35.14,"v":2575000,"s":"MA5: 608307","g":"y"},
{"k":44.62,"v":2575000,"s":"MA10: 753226","g":"m"}
],
"mhdr":[
{"k":1.66,"m":0.1404,"s":"MACD(12,26,9)","g":"t"},
{"k":12.6,"m":0.1404,"s":"DIF: 0.11","g":"w"},
{"k":19.26,"m":0.1404,"s":"DEA: 0.10","g":"y"},
{"k":26.4,"m":0.1404,"s":"MACD: 0.01","g":"m"}
]
},
"vconcat":[
{
"width":1083,"height":369,
"resolve":{"scale":{"color":"independent"}},
"layer":[
{"data":{"values":[{"p":1.404},{"p":1.191},{"p":0.979},{"p":0.766}]},"mark":{"type":"rule","color":"#a00000","strokeDash":[1,3],"strokeWidth":1},
 "encoding":{"y":{"field":"p","type":"quantitative","scale":{"domain":[0.388,1.613],"nice":false,"zero":false},"axis":null}}},
{"data":{"name":"ln"},"mark":{"type":"rule","color":"#8c8c8c","strokeWidth":1},
 "encoding":{"x":{"field":"k","type":"quantitative","scale":{"domain":[-0.554,132.74],"nice":false,"zero":false},"axis":null},
 "y":{"field":"g","type":"quantitative","scale":{"domain":[0.388,1.613],"nice":false,"zero":false},"axis":null},"y2":{"datum":0.448}}},
{"data":{"name":"ln"},"mark":{"type":"line","color":"#a8a8a8","strokeWidth":1},
 "encoding":{"x":{"field":"k","type":"quantitative"},"y":{"field":"g","type":"quantitative"}}},
{"data":{"name":"ln"},"mark":{"type":"point","shape":"diamond","filled":true,"size":44,"color":"#12e6ff","opacity":1},
 "encoding":{"x":{"field":"k","type":"quantitative"},"y":{"field":"bx","type":"quantitative"}}},
{"data":{"name":"lv"},"transform":[{"filter":"datum.g=='entry'"}],"mark":{"type":"rule","color":"#ffff00","strokeDash":[4,3],"strokeWidth":1},
 "encoding":{"x":{"field":"k","type":"quantitative"},"x2":{"field":"k2"},"y":{"field":"p","type":"quantitative"}}},
{"data":{"name":"lv"},"transform":[{"filter":"datum.g=='base'"}],"mark":{"type":"rule","color":"#e00000","strokeWidth":1.5},
 "encoding":{"x":{"field":"k","type":"quantitative"},"x2":{"field":"k2"},"y":{"field":"p","type":"quantitative"}}},
{"data":{"name":"cd"},"mark":{"type":"rule","strokeWidth":1},
 "encoding":{"x":{"field":"k","type":"quantitative"},"y":{"field":"h","type":"quantitative"},"y2":{"field":"l"},
 "color":{"field":"c","type":"nominal","scale":{"domain":["red","cyan","blue","yellow","white"],"range":["#ff2a68","#18b4f5","#1414ff","#ff3030","#ffffff"]},"legend":null}}},
{"data":{"name":"cd"},"mark":{"type":"bar","size":6},
 "encoding":{"x":{"field":"k","type":"quantitative"},"y":{"field":"t","type":"quantitative"},"y2":{"field":"b"},
 "color":{"field":"c","type":"nominal","scale":{"domain":["red","cyan","blue","yellow","white"],"range":["#ff2a68","#18b0f2","#1414ff","#ffff00","#ffffff"]},"legend":null}}},
{"data":{"name":"ln"},"mark":{"type":"line","color":"#22ee22","strokeWidth":2.2},
 "encoding":{"x":{"field":"k","type":"quantitative"},"y":{"field":"tr","type":"quantitative"}}},
{"data":{"name":"arr"},"mark":{"type":"rule","color":"#c8c8c8","strokeDash":[3,2],"strokeWidth":1},
 "encoding":{"x":{"field":"k","type":"quantitative"},"x2":{"field":"k2"},"y":{"field":"p","type":"quantitative"},"y2":{"field":"p2"}}},
{"data":{"name":"ann"},"mark":{"type":"text","align":"left","baseline":"middle","fontSize":13},
 "encoding":{"x":{"field":"k","type":"quantitative"},"y":{"field":"p","type":"quantitative"},"text":{"field":"s"},
 "color":{"field":"g","type":"nominal","scale":{"domain":["fish","end"],"range":["#ff2020","#1f9a1f"]},"legend":null}}},
{"data":{"name":"ext"},"mark":{"type":"text","align":"left","baseline":"middle","fontSize":13,"color":"#cccccc"},
 "encoding":{"x":{"field":"k","type":"quantitative"},"y":{"field":"p","type":"quantitative"},"text":{"field":"s"}}},
{"data":{"name":"rlab"},"mark":{"type":"text","align":"left","baseline":"middle","fontSize":14,"clip":true},
 "encoding":{"x":{"field":"k","type":"quantitative"},"y":{"field":"p","type":"quantitative"},"text":{"field":"s"},
 "color":{"field":"g","type":"nominal","scale":{"domain":["bull","entry"],"range":["#3cb8ff","#ffff00"]},"legend":null}}},
{"data":{"name":"leg"},"mark":{"type":"text","align":"left","baseline":"middle","fontSize":12},
 "encoding":{"x":{"field":"k","type":"quantitative"},"y":{"field":"p","type":"quantitative"},"text":{"field":"s"},
 "color":{"field":"g","type":"nominal","scale":{"domain":["gold","wood","water","fire","earth"],"range":["#ffff00","#22dd22","#ff00ff","#ff1a1a","#00f0ff"]},"legend":null}}},
{"data":{"name":"hdr"},"mark":{"type":"text","align":"left","baseline":"middle","fontSize":12,"clip":true},
 "encoding":{"x":{"field":"k","type":"quantitative"},"y":{"field":"p","type":"quantitative"},"text":{"field":"s"},
 "color":{"field":"g","type":"nominal","scale":{"domain":["title","name","bull","op","safe","trend","wh","res","sup","stop","icon"],"range":["#d8d8d8","#e8e8e8","#20e0ff","#ffff00","#909090","#22ee22","#ffff00","#1c1cff","#ffffff","#ff1a1a","#909090"]},"legend":null}}},
{"data":{"values":[{"k":10.77,"p":1.583}]},"mark":{"type":"point","filled":true,"size":130,"color":"#707070","opacity":1},
 "encoding":{"x":{"field":"k","type":"quantitative"},"y":{"field":"p","type":"quantitative"}}},
{"data":{"name":"tags"},"mark":{"type":"point","shape":"square","filled":true,"size":190,"opacity":1},
 "encoding":{"x":{"field":"k","type":"quantitative"},"y":{"field":"p","type":"quantitative"},
 "color":{"field":"g","type":"nominal","scale":{"domain":["cai","bang","yu","zeng","zhang","die"],"range":["#1f4f8a","#9a5520","#c8641e","#8a0c0c","#b01414","#129412"]},"legend":null}}},
{"data":{"name":"tags"},"mark":{"type":"text","align":"center","baseline":"middle","fontSize":12,"color":"#ffffff"},
 "encoding":{"x":{"field":"k","type":"quantitative"},"y":{"field":"p","type":"quantitative"},"text":{"field":"s"}}}
]
},
{
"width":1083,"height":112,
"resolve":{"scale":{"color":"independent"}},
"layer":[
{"data":{"values":[{"v":1775000},{"v":900000}]},"mark":{"type":"rule","color":"#a00000","strokeDash":[1,3],"strokeWidth":1},
 "encoding":{"y":{"field":"v","type":"quantitative","scale":{"domain":[-25000,2775000],"nice":false,"zero":false},"axis":null}}},
{"data":{"name":"vol"},"transform":[{"filter":"datum.t=='c'"}],"mark":{"type":"bar","size":7,"color":"#55ffff"},
 "encoding":{"x":{"field":"k","type":"quantitative","scale":{"domain":[-0.554,132.74],"nice":false,"zero":false},"axis":null},
 "y":{"field":"v","type":"quantitative"},"y2":{"datum":0}}},
{"data":{"name":"vol"},"transform":[{"filter":"datum.t=='r'"}],"mark":{"type":"bar","size":6,"fill":"#000000","stroke":"#ff3333","strokeWidth":1.2},
 "encoding":{"x":{"field":"k","type":"quantitative"},"y":{"field":"v","type":"quantitative"},"y2":{"datum":0}}},
{"data":{"name":"ma"},"mark":{"type":"line","color":"#ffff00","strokeWidth":1},
 "encoding":{"x":{"field":"k","type":"quantitative"},"y":{"field":"a","type":"quantitative"}}},
{"data":{"name":"ma"},"mark":{"type":"line","color":"#ff00ff","strokeWidth":1},
 "encoding":{"x":{"field":"k","type":"quantitative"},"y":{"field":"b","type":"quantitative"}}},
{"data":{"name":"vhdr"},"mark":{"type":"text","align":"left","baseline":"middle","fontSize":12},
 "encoding":{"x":{"field":"k","type":"quantitative"},"y":{"field":"v","type":"quantitative"},"text":{"field":"s"},
 "color":{"field":"g","type":"nominal","scale":{"domain":["t","w","y","m"],"range":["#b4b4b4","#ffffff","#ffff00","#ff00ff"]},"legend":null}}},
{"data":{"values":[{"k":0.43,"v":2575000}]},"mark":{"type":"point","filled":true,"size":130,"color":"#707070","opacity":1},
 "encoding":{"x":{"field":"k","type":"quantitative"},"y":{"field":"v","type":"quantitative"}}}
]
},
{
"width":1083,"height":133,
"resolve":{"scale":{"color":"independent"}},
"layer":[
{"data":{"name":"hs"},"mark":{"type":"rule","strokeWidth":1.5},
 "encoding":{"x":{"field":"k","type":"quantitative","scale":{"domain":[-0.554,132.74],"nice":false,"zero":false},"axis":null},
 "y":{"field":"m","type":"quantitative","scale":{"domain":[-0.0828,0.1566],"nice":false,"zero":false},"axis":null},"y2":{"datum":0},
 "color":{"field":"t","type":"nominal","scale":{"domain":["n","p","w"],"range":["#00e8ff","#ff3030","#d0d0d0"]},"legend":null}}},
{"data":{"name":"dd"},"mark":{"type":"line","color":"#ffffff","strokeWidth":1},
 "encoding":{"x":{"field":"k","type":"quantitative"},"y":{"field":"dif","type":"quantitative"}}},
{"data":{"name":"dd"},"mark":{"type":"line","color":"#ffff00","strokeWidth":1},
 "encoding":{"x":{"field":"k","type":"quantitative"},"y":{"field":"dea","type":"quantitative"}}},
{"data":{"name":"mhdr"},"mark":{"type":"text","align":"left","baseline":"middle","fontSize":12},
 "encoding":{"x":{"field":"k","type":"quantitative"},"y":{"field":"m","type":"quantitative"},"text":{"field":"s"},
 "color":{"field":"g","type":"nominal","scale":{"domain":["t","w","y","m"],"range":["#b4b4b4","#ffffff","#ffff00","#ff00ff"]},"legend":null}}},
{"data":{"values":[{"k":0.43,"m":0.1404}]},"mark":{"type":"point","filled":true,"size":130,"color":"#707070","opacity":1},
 "encoding":{"x":{"field":"k","type":"quantitative"},"y":{"field":"m","type":"quantitative"}}}
]
}
]
}
